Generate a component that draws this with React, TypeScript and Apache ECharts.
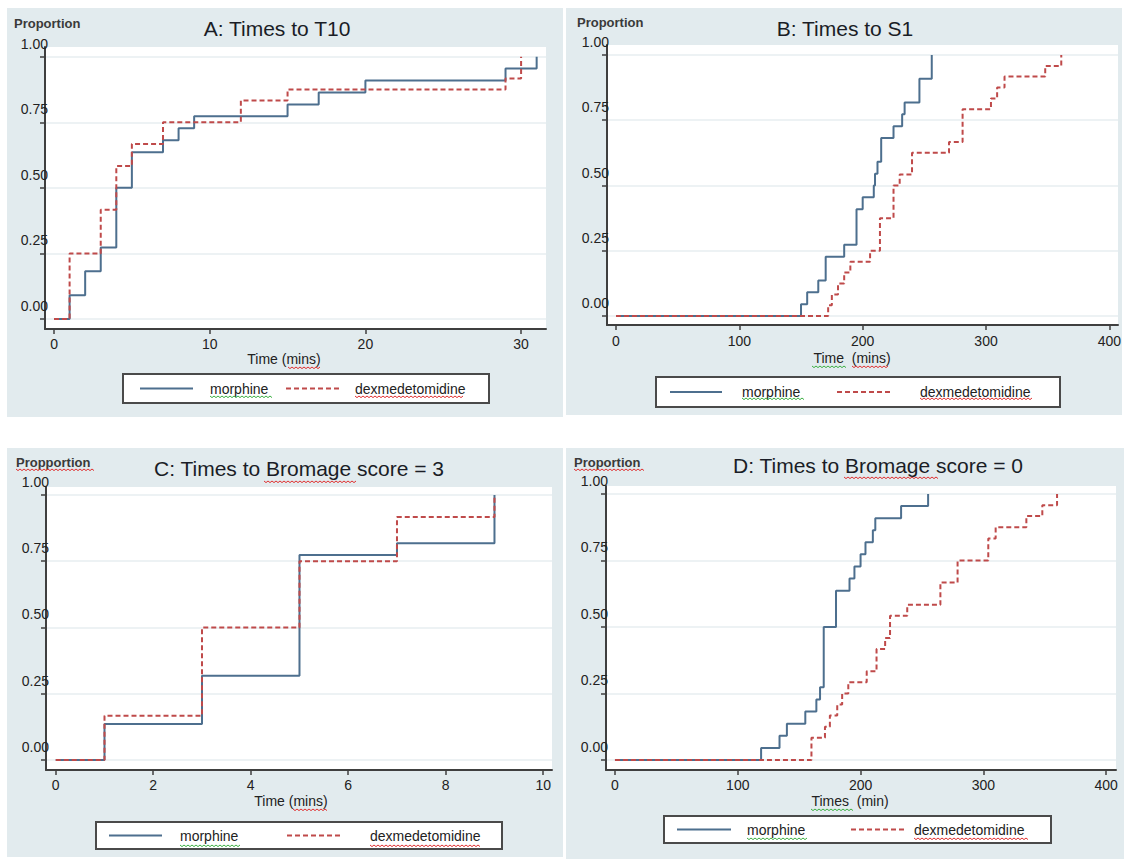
import React, { useEffect, useRef } from "react";
import * as echarts from "echarts";

// ---------- data ----------
const SERIES_NAMES = ["morphine", "dexmedetomidine"];
const PANEL_TITLES = [
  "A: Times to T10",
  "B: Times to S1",
  "C: Times to Bromage score = 3",
  "D: Times to Bromage score = 0",
];
const Y_TITLES = ["Proportion", "Proportion", "Propportion", "Proportion"];
const X_TITLES = ["Time (mins)", "Time  (mins)", "Time (mins)", "Times  (min)"];
const Y_TICKS = [0, 0.25, 0.5, 0.75, 1];
const X_TICKS_A = [0, 10, 20, 30];
const X_TICKS_B = [0, 100, 200, 300, 400];
const X_TICKS_C = [0, 2, 4, 6, 8, 10];
const X_TICKS_D = [0, 100, 200, 300, 400];

// A: Times to T10
const morphineA_time = [0, 1, 2, 3, 4, 5, 7, 8, 9, 15, 17, 20, 29, 31];
const morphineA_prop = [0, 0.091, 0.182, 0.273, 0.5, 0.636, 0.682, 0.727, 0.773, 0.818, 0.864, 0.909, 0.955, 1.0];
const dexA_time = [0, 1, 3, 4, 5, 7, 12, 15, 29, 30];
const dexA_prop = [0, 0.25, 0.417, 0.583, 0.667, 0.75, 0.833, 0.875, 0.917, 1.0];

// B: Times to S1
const morphineB_time = [0, 150, 155, 164, 170, 185, 195, 200, 209, 210, 212, 215, 225, 232, 234, 246, 256];
const morphineB_prop = [0, 0.045, 0.091, 0.136, 0.227, 0.273, 0.409, 0.455, 0.5, 0.545, 0.591, 0.682, 0.727, 0.773, 0.818, 0.909, 1.0];
const dexB_time = [0, 172, 175, 180, 185, 190, 206, 214, 225, 230, 240, 270, 281, 304, 309, 315, 348, 361];
const dexB_prop = [0, 0.042, 0.083, 0.125, 0.167, 0.208, 0.25, 0.375, 0.5, 0.542, 0.625, 0.667, 0.792, 0.833, 0.875, 0.917, 0.958, 1.0];

// C: Times to Bromage score = 3
const morphineC_time = [0, 1, 3, 5, 7, 9];
const morphineC_prop = [0, 0.136, 0.318, 0.773, 0.818, 1.0];
const dexC_time = [0, 1, 3, 5, 7, 9];
const dexC_prop = [0, 0.167, 0.5, 0.75, 0.917, 1.0];

// D: Times to Bromage score = 0
const morphineD_time = [0, 119, 134, 140, 155, 164, 167, 170, 180, 191, 195, 200, 204, 210, 212, 233, 255];
const morphineD_prop = [0, 0.045, 0.091, 0.136, 0.182, 0.227, 0.273, 0.5, 0.636, 0.682, 0.727, 0.773, 0.818, 0.864, 0.909, 0.955, 1.0];
const dexD_time = [0, 160, 171, 175, 181, 185, 190, 205, 213, 220, 224, 238, 265, 279, 304, 310, 335, 348, 360];
const dexD_prop = [0, 0.083, 0.125, 0.167, 0.208, 0.25, 0.292, 0.333, 0.417, 0.458, 0.542, 0.583, 0.667, 0.75, 0.833, 0.875, 0.917, 0.958, 1.0];

const PANEL_DATA = [
  { xTicks: X_TICKS_A, m: [morphineA_time, morphineA_prop], d: [dexA_time, dexA_prop] },
  { xTicks: X_TICKS_B, m: [morphineB_time, morphineB_prop], d: [dexB_time, dexB_prop] },
  { xTicks: X_TICKS_C, m: [morphineC_time, morphineC_prop], d: [dexC_time, dexC_prop] },
  { xTicks: X_TICKS_D, m: [morphineD_time, morphineD_prop], d: [dexD_time, dexD_prop] },
];

// ---------- layout / style ----------
const FONT = "'Liberation Sans', Arial, Helvetica, sans-serif";
const PANEL_BG = "#e2ebee";
const AXIS_COLOR = "#3f3f3f";
const TEXT_COLOR = "#222222";
const MORPH_COLOR = "#4d6f8e";
const DEX_COLOR = "#bf4a4a";
const GRID_LINE = "#e7eef0";

const LAYOUT = [
  {
    bg: [7, 8, 556, 409],
    grid: { left: 45, top: 47, width: 501, height: 282 },
    x: [-0.58, 31.6], y: [-0.038, 1.037], xMargin: 8, yMargin: -3,
    title: [277, 28], ytitle: [14, 23], xname: [284, 359],
    legend: { box: [123, 374, 366, 29], solid: [140, 193], mText: 210, dash: [286, 341], dText: 355 },
  },
  {
    bg: [566, 8, 556, 407],
    grid: { left: 607, top: 45, width: 511, height: 280 },
    x: [-7.3, 407], y: [-0.034, 1.038], xMargin: 9, yMargin: -2,
    title: [845, 28], ytitle: [577, 22], xname: [852, 358],
    legend: { box: [656, 377, 404, 30], solid: [670, 722], mText: 742, dash: [837, 893], dText: 920 },
  },
  {
    bg: [7, 448, 556, 409],
    grid: { left: 46, top: 487, width: 506, height: 283 },
    x: [-0.2, 10.18], y: [-0.038, 1.03], xMargin: 8, yMargin: -3,
    title: [299, 468], ytitle: [16, 462], xname: [291, 801],
    legend: { box: [96, 822, 406, 27], solid: [109, 162], mText: 180, dash: [287, 341], dText: 370 },
  },
  {
    bg: [566, 448, 558, 411],
    grid: { left: 606, top: 486, width: 510, height: 284 },
    x: [-7.3, 408], y: [-0.038, 1.03], xMargin: 8, yMargin: -2,
    title: [878, 465], ytitle: [574, 462], xname: [850, 801],
    legend: { box: [664, 816, 387, 27], solid: [677, 731], mText: 747, dash: [851, 905], dText: 914 },
  },
];

// spell-check style squiggles [x1, x2, y, colour]
const SQUIGGLES: [number, number, number, string][] = [
  [288, 320, 367, "#e03030"],
  [210, 273, 396, "#3cb043"], [355, 463, 396, "#e03030"],
  [812, 846, 366, "#3cb043"], [852, 889, 366, "#e03030"],
  [742, 805, 398, "#3cb043"], [920, 1032, 398, "#e03030"],
  [16, 95, 469, "#e03030"], [264, 357, 481, "#e03030"], [293, 327, 809, "#e03030"],
  [180, 241, 845, "#3cb043"], [370, 480, 845, "#e03030"],
  [574, 644, 469, "#e03030"], [844, 938, 477, "#e03030"], [811, 853, 809, "#3cb043"],
  [747, 808, 838, "#3cb043"], [914, 1028, 838, "#e03030"],
];

function squiggle(x1: number, x2: number, y: number, color: string) {
  const pts: number[][] = [];
  let up = true;
  for (let x = x1; x <= x2; x += 2) {
    pts.push([x, up ? y : y + 1.6]);
    up = !up;
  }
  return { type: "polyline", silent: true, z: 20, shape: { points: pts }, style: { stroke: color, lineWidth: 1, fill: null } };
}

function buildOption() {
  const grids: any[] = [];
  const xAxes: any[] = [];
  const yAxes: any[] = [];
  const series: any[] = [];
  const graphics: any[] = [];

  LAYOUT.forEach((L, i) => {
    const P = PANEL_DATA[i];
    graphics.push({
      type: "rect", z: -10, silent: true,
      shape: { x: L.bg[0], y: L.bg[1], width: L.bg[2], height: L.bg[3] },
      style: { fill: PANEL_BG },
    });
    grids.push({
      ...L.grid, show: true, backgroundColor: "#ffffff", borderWidth: 0,
      containLabel: false, outerBoundsMode: "none",
    });
    xAxes.push({
      type: "value", gridIndex: i, min: L.x[0], max: L.x[1],
      axisLine: { show: true, onZero: false, lineStyle: { color: AXIS_COLOR, width: 2 } },
      axisTick: { show: true, length: 5, customValues: P.xTicks, lineStyle: { color: AXIS_COLOR, width: 1.5 } },
      axisLabel: {
        show: true, customValues: P.xTicks, margin: L.xMargin, color: TEXT_COLOR,
        fontSize: 14, fontFamily: FONT, formatter: (v: number) => String(v),
      },
      splitLine: { show: false },
    });
    yAxes.push({
      type: "value", gridIndex: i, min: L.y[0], max: L.y[1],
      axisLine: { show: true, onZero: false, lineStyle: { color: AXIS_COLOR, width: 2 } },
      axisTick: { show: true, length: 5, customValues: Y_TICKS, lineStyle: { color: AXIS_COLOR, width: 1.5 } },
      axisLabel: {
        show: true, customValues: Y_TICKS, margin: L.yMargin, color: TEXT_COLOR,
        fontSize: 14, fontFamily: FONT, verticalAlign: "bottom", lineHeight: 14,
        padding: [0, 0, 6, 0], formatter: (v: number) => v.toFixed(2),
      },
      splitLine: { show: true, lineStyle: { color: GRID_LINE, width: 1.5 } },
    });
    series.push({
      name: SERIES_NAMES[0], type: "line", step: "end", xAxisIndex: i, yAxisIndex: i,
      showSymbol: false, symbol: "none", z: 3,
      lineStyle: { color: MORPH_COLOR, width: 2, type: "solid" },
      data: P.m[0].map((t, j) => [t, P.m[1][j]]),
    });
    series.push({
      name: SERIES_NAMES[1], type: "line", step: "end", xAxisIndex: i, yAxisIndex: i,
      showSymbol: false, symbol: "none", z: 4,
      lineStyle: { color: DEX_COLOR, width: 2, type: [5, 3] },
      data: P.d[0].map((t, j) => [t, P.d[1][j]]),
    });

    // texts
    graphics.push({
      type: "text", x: L.title[0], y: L.title[1], z: 10,
      style: { text: PANEL_TITLES[i], fill: "#1a1d26", font: `21px ${FONT}`, align: "center", verticalAlign: "middle" },
    });
    graphics.push({
      type: "text", x: L.ytitle[0], y: L.ytitle[1], z: 10,
      style: { text: Y_TITLES[i], fill: "#3a3a3a", font: `bold 13px ${FONT}`, align: "left", verticalAlign: "middle" },
    });
    graphics.push({
      type: "text", x: L.xname[0], y: L.xname[1], z: 10,
      style: { text: X_TITLES[i], fill: TEXT_COLOR, font: `14px ${FONT}`, align: "center", verticalAlign: "middle" },
    });

    // legend
    const lg = L.legend;
    const cy = lg.box[1] + lg.box[3] / 2;
    graphics.push({
      type: "rect", z: 10,
      shape: { x: lg.box[0], y: lg.box[1], width: lg.box[2], height: lg.box[3] },
      style: { fill: "#ffffff", stroke: "#4a4a4a", lineWidth: 2 },
    });
    graphics.push({
      type: "line", z: 11, shape: { x1: lg.solid[0], y1: cy, x2: lg.solid[1], y2: cy },
      style: { stroke: MORPH_COLOR, lineWidth: 2 },
    });
    graphics.push({
      type: "text", x: lg.mText, y: cy, z: 11,
      style: { text: SERIES_NAMES[0], fill: TEXT_COLOR, font: `14px ${FONT}`, align: "left", verticalAlign: "middle" },
    });
    graphics.push({
      type: "line", z: 11, shape: { x1: lg.dash[0], y1: cy, x2: lg.dash[1], y2: cy },
      style: { stroke: DEX_COLOR, lineWidth: 2, lineDash: [5, 3] },
    });
    graphics.push({
      type: "text", x: lg.dText, y: cy, z: 11,
      style: { text: SERIES_NAMES[1], fill: TEXT_COLOR, font: `14px ${FONT}`, align: "left", verticalAlign: "middle" },
    });
  });

  SQUIGGLES.forEach(([a, b, y, c]) => graphics.push(squiggle(a, b, y, c)));

  return {
    animation: false,
    backgroundColor: "#ffffff",
    grid: grids,
    xAxis: xAxes,
    yAxis: yAxes,
    series,
    graphic: { elements: graphics },
  };
}

export default function App() {
  const ref = useRef<HTMLDivElement>(null);
  useEffect(() => {
    document.body.style.margin = "0";
    if (!ref.current) return;
    const chart = echarts.init(ref.current, null, { renderer: "svg" });
    chart.setOption(buildOption() as any);
    return () => chart.dispose();
  }, []);
  return <div ref={ref} style={{ width: 1124, height: 859, background: "#fff" }} />;
}
